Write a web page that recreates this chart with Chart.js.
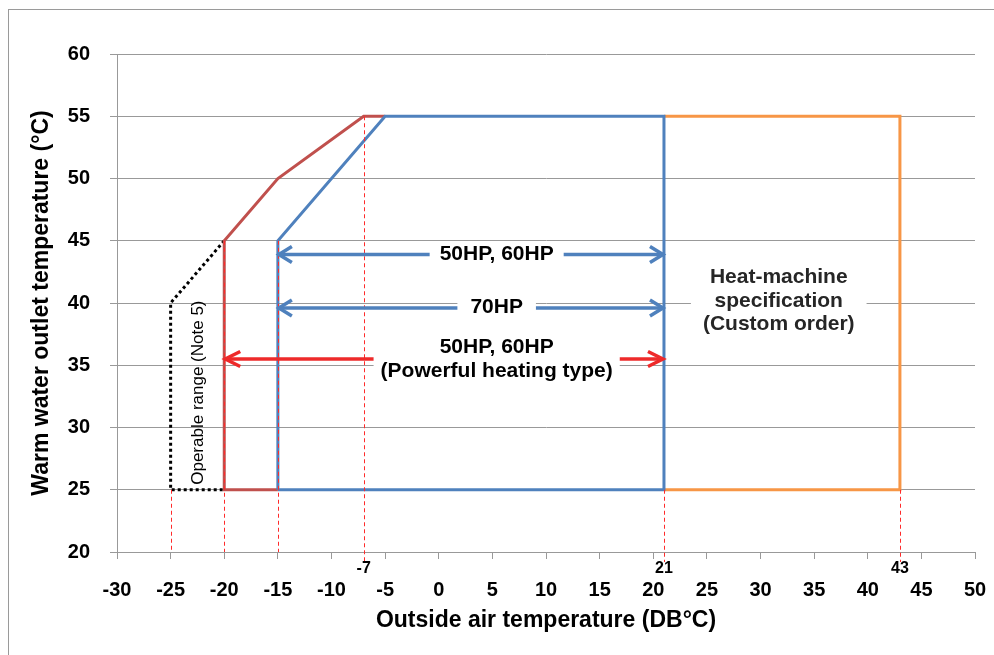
<!DOCTYPE html>
<html lang="en">
<head>
    <meta charset="UTF-8">
    <style>
        body {
            margin: 0;
            background: #ffffff;
            font-family: Arial, "Liberation Sans", sans-serif;
        }
        .wrap {
            position: relative;
            width: 994px;
            height: 655px;
            overflow: hidden;
        }
        .frame {
            position: absolute;
            left: 8px;
            top: 9px;
            width: 1000px;
            height: 700px;
            border: 1px solid #9a9a9a;
            box-sizing: border-box;
        }
        canvas {
            position: absolute;
            left: 0;
            top: 0;
        }
    </style>
    <script src="https://cdn.jsdelivr.net/npm/chart.js"></script>
</head>
<body>
    <div class="wrap">
        <div class="frame"></div>
        <canvas id="rangeChart" width="994" height="655"></canvas>
    </div>

    <script>
        // outline of each operating range (x = outside air DB°C, y = outlet water °C)
        const blueX = [-15, -15, -5, 21, 21, -15];
        const blueY = [25, 45, 55, 55, 25, 25];
        const redX = [-15, -20, -20, -15, -7, -5];
        const redY = [25, 25, 45, 50, 55, 55];
        const orangeX = [21, 43, 43, 21];
        const orangeY = [55, 55, 25, 25];
        const dottedX = [-20, -25, -25, -20];
        const dottedY = [45, 40, 25, 25];

        // red dashed guide lines down to the axis
        const guideX = [-25, -20, -15, -7, 21, 43];
        const guideTop = [25, 45, 45, 55, 25, 25];
        const guideLabels = ['', '', '', '-7', '21', '43'];

        // double arrows with their model labels
        const arrowY = [43.9, 39.6, 35.5];
        const arrowFrom = [-15, -15, -20];
        const arrowTo = [21, 21, 21];
        const arrowLabels = [['50HP, 60HP'], ['70HP'], ['50HP, 60HP', '(Powerful heating type)']];

        const customLabel = ['Heat-machine', 'specification', '(Custom order)'];
        const noteLabel = 'Operable range (Note 5)';

        function pts(xs, ys) {
            return xs.map((x, i) => ({ x: x, y: ys[i] }));
        }

        function textBox(ctx, lines, cx, cy, padX, color) {
            const lh = 23.5;
            ctx.font = 'bold 21px Arial, "Liberation Sans", sans-serif';
            let w = 0;
            lines.forEach(t => { w = Math.max(w, ctx.measureText(t).width); });
            const h = lines.length * lh;
            ctx.fillStyle = '#ffffff';
            ctx.fillRect(cx - w / 2 - padX, cy - h / 2, w + padX * 2, h);
            ctx.fillStyle = color;
            ctx.textAlign = 'center';
            ctx.textBaseline = 'middle';
            lines.forEach((t, i) => {
                ctx.fillText(t, cx, cy - h / 2 + lh * (i + 0.5));
            });
        }

        function arrowHead(ctx, tipX, y, dir, len, spread) {
            ctx.beginPath();
            ctx.moveTo(tipX + dir * len, y - spread);
            ctx.lineTo(tipX, y);
            ctx.lineTo(tipX + dir * len, y + spread);
            ctx.stroke();
        }

        const annotations = {
            id: 'annotations',
            afterDatasetsDraw(chart) {
                const ctx = chart.ctx;
                const xs = chart.scales.x;
                const ys = chart.scales.y;
                ctx.save();

                // guides
                ctx.strokeStyle = '#ff2a2a';
                ctx.lineWidth = 1;
                ctx.setLineDash([4, 3]);
                guideX.forEach((gx, i) => {
                    const px = Math.round(xs.getPixelForValue(gx)) + 0.5;
                    const bottom = guideLabels[i] ? ys.bottom + 10 : ys.bottom;
                    ctx.beginPath();
                    ctx.moveTo(px, ys.getPixelForValue(guideTop[i]));
                    ctx.lineTo(px, bottom);
                    ctx.stroke();
                });
                ctx.setLineDash([]);
                ctx.fillStyle = '#000';
                ctx.font = 'bold 16px Arial, "Liberation Sans", sans-serif';
                ctx.textAlign = 'center';
                ctx.textBaseline = 'middle';
                guideX.forEach((gx, i) => {
                    if (guideLabels[i]) {
                        ctx.fillText(guideLabels[i], xs.getPixelForValue(gx), ys.bottom + 17);
                    }
                });

                // arrows
                ctx.lineWidth = 3.5;
                ctx.lineJoin = 'miter';
                arrowY.forEach((ay, i) => {
                    const py = ys.getPixelForValue(ay);
                    const x1 = xs.getPixelForValue(arrowFrom[i]) + 1;
                    const x2 = xs.getPixelForValue(arrowTo[i]) - 1;
                    const red = i === 2;
                    ctx.strokeStyle = red ? '#ee2a2a' : '#4f81bd';
                    ctx.beginPath();
                    ctx.moveTo(x1, py);
                    ctx.lineTo(x2, py);
                    ctx.stroke();
                    arrowHead(ctx, x1, py, 1, red ? 15 : 13, red ? 7.5 : 8);
                    arrowHead(ctx, x2, py, -1, red ? 15 : 13, red ? 7.5 : 8);
                });

                // arrow labels
                const labelX = xs.getPixelForValue(5.4);
                textBox(ctx, arrowLabels[0], labelX, ys.getPixelForValue(arrowY[0]), 10, '#000');
                textBox(ctx, arrowLabels[1], labelX, ys.getPixelForValue(arrowY[1]) - 0.5, 13, '#000');
                textBox(ctx, arrowLabels[2], labelX, ys.getPixelForValue(arrowY[2]), 7, '#000');
                textBox(ctx, customLabel, xs.getPixelForValue(31.7), ys.getPixelForValue(40.15), 12, '#262626');

                // rotated note
                ctx.save();
                ctx.translate(xs.getPixelForValue(-22.45), ys.getPixelForValue(32.8));
                ctx.rotate(-Math.PI / 2);
                ctx.fillStyle = '#000';
                ctx.font = '17px Arial, "Liberation Sans", sans-serif';
                ctx.textAlign = 'center';
                ctx.textBaseline = 'middle';
                ctx.fillText(noteLabel, 0, 0);
                ctx.restore();

                ctx.restore();
            }
        };

        const lineSet = (label, xs, ys, color, dash) => ({
            label: label,
            data: pts(xs, ys),
            showLine: true,
            borderColor: color,
            backgroundColor: color,
            borderWidth: 3,
            borderDash: dash || [],
            pointRadius: 0,
            fill: false,
            tension: 0
        });

        const tickFont = { family: 'Arial, "Liberation Sans", sans-serif', size: 20, weight: 'bold' };
        const titleFont = { family: 'Arial, "Liberation Sans", sans-serif', size: 23, weight: 'bold' };

        new Chart(document.getElementById('rangeChart'), {
            type: 'scatter',
            data: {
                datasets: [
                    lineSet('Standard', blueX, blueY, '#4f81bd'),
                    lineSet('Powerful heating', redX, redY, '#c0504d'),
                    lineSet('Custom order', orangeX, orangeY, '#f79646'),
                    lineSet('Operable range', dottedX, dottedY, '#000000', [3, 3])
                ]
            },
            options: {
                responsive: false,
                animation: false,
                devicePixelRatio: 1,
                layout: { padding: { top: 54, right: 19, left: 0, bottom: 0 } },
                plugins: {
                    legend: { display: false },
                    tooltip: { enabled: false }
                },
                scales: {
                    x: {
                        type: 'linear',
                        min: -30,
                        max: 50,
                        afterFit: (s) => {
                            s.height = 103;
                            s.paddingLeft = 0;
                            s.paddingRight = 0;
                        },
                        ticks: { stepSize: 5, color: '#000', font: tickFont, padding: 19, maxRotation: 0 },
                        grid: { drawOnChartArea: false, drawTicks: true, tickLength: 7, color: '#999' },
                        border: { display: true, color: '#999' },
                        title: {
                            display: true,
                            text: 'Outside air temperature (DB°C)',
                            color: '#000',
                            font: titleFont,
                            padding: { top: 0, bottom: 21 }
                        }
                    },
                    y: {
                        type: 'linear',
                        min: 20,
                        max: 60,
                        afterFit: (s) => { s.width = 117; },
                        ticks: { stepSize: 5, color: '#000', font: tickFont, padding: 20 },
                        grid: { color: '#999', tickLength: 7 },
                        border: { display: true, color: '#999' },
                        title: {
                            display: true,
                            text: 'Warm water outlet temperature (°C)',
                            color: '#000',
                            font: titleFont,
                            padding: { top: 28, bottom: 0 }
                        }
                    }
                }
            },
            plugins: [annotations]
        });
    </script>
</body>
</html>
